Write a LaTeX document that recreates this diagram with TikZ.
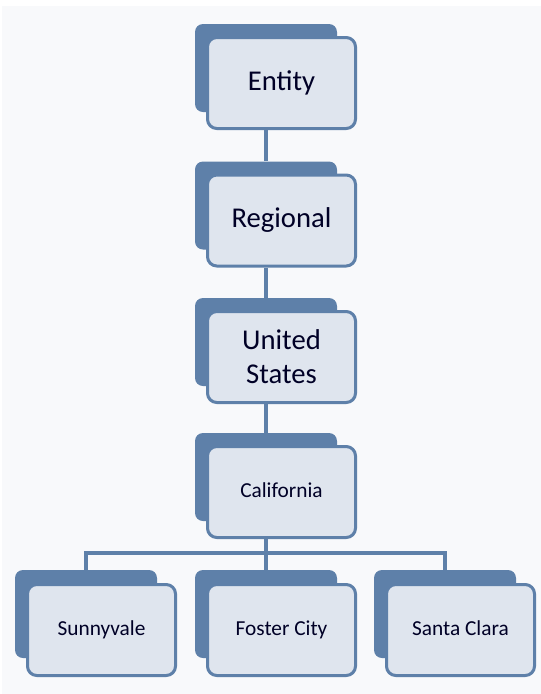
\documentclass[tikz,border=0pt]{standalone}
\usepackage{fontspec}
\setmainfont{Carlito}

\definecolor{boxblue}{HTML}{5E80A9}
\definecolor{boxfill}{HTML}{DFE5EE}
\definecolor{pagebg}{HTML}{F8F9FB}

\tikzset{
    backbox/.style={fill=boxblue, rounded corners=6pt, minimum width=106.5pt, minimum height=66pt, inner sep=0pt},
    frontbox/.style={draw=boxblue, fill=boxfill, line width=2.25pt, rounded corners=7pt,
        minimum width=111pt, minimum height=68.25pt, inner sep=0pt, align=center, text=black!85!blue},
    bigtext/.style={font=\fontsize{21.5}{25.5}\selectfont},
    smalltext/.style={font=\fontsize{16}{19}\selectfont, text height=11.5pt, text depth=3.5pt},
    link/.style={draw=boxblue, line width=3pt}
}

\begin{document}
\begin{tikzpicture}[x=0.75pt, y=-0.75pt]
            \useasboundingbox (0, 0) rectangle (541, 694);
            \fill[white] (0, 0) rectangle (541, 694);
            \fill[pagebg] (2, 6) rectangle (541, 694);

            % the chain down to the state
            \foreach \name/\y/\sz/\txt in {entity/83/bigtext/Entity, regional/220.5/bigtext/Regional,
                    unitedstates/357/bigtext/United\\States, california/492/smalltext/California} {
                \node[backbox] (\name-back) at (266, \y-15) {};
                \node[frontbox, \sz] (\name) at (281.5, \y) {\txt};
            }
            % the cities
            \foreach \name/\x/\txt in {sunnyvale/101.5/Sunnyvale, fostercity/281.5/Foster City,
                    santaclara/460.5/Santa Clara} {
                \node[backbox] (\name-back) at (\x-15.5, 614) {};
                \node[frontbox, smalltext] (\name) at (\x, 630) {\txt};
            }

            \foreach \top/\bot in {entity/regional, regional/unitedstates, unitedstates/california} {
                \draw[link] (\bot-back.north) -- (\bot-back.north |- \top.south);
            }

            \coordinate (bar) at (266, 552.5);
            \draw[link] (california-back.center |- california.south) -- (bar);
            \draw[link] (sunnyvale-back.north) -- (sunnyvale-back.north |- bar)
                -- (santaclara-back.north |- bar) -- (santaclara-back.north);
            \draw[link] (fostercity-back.north) -- (fostercity-back.north |- bar);
        \end{tikzpicture}
\end{document}
